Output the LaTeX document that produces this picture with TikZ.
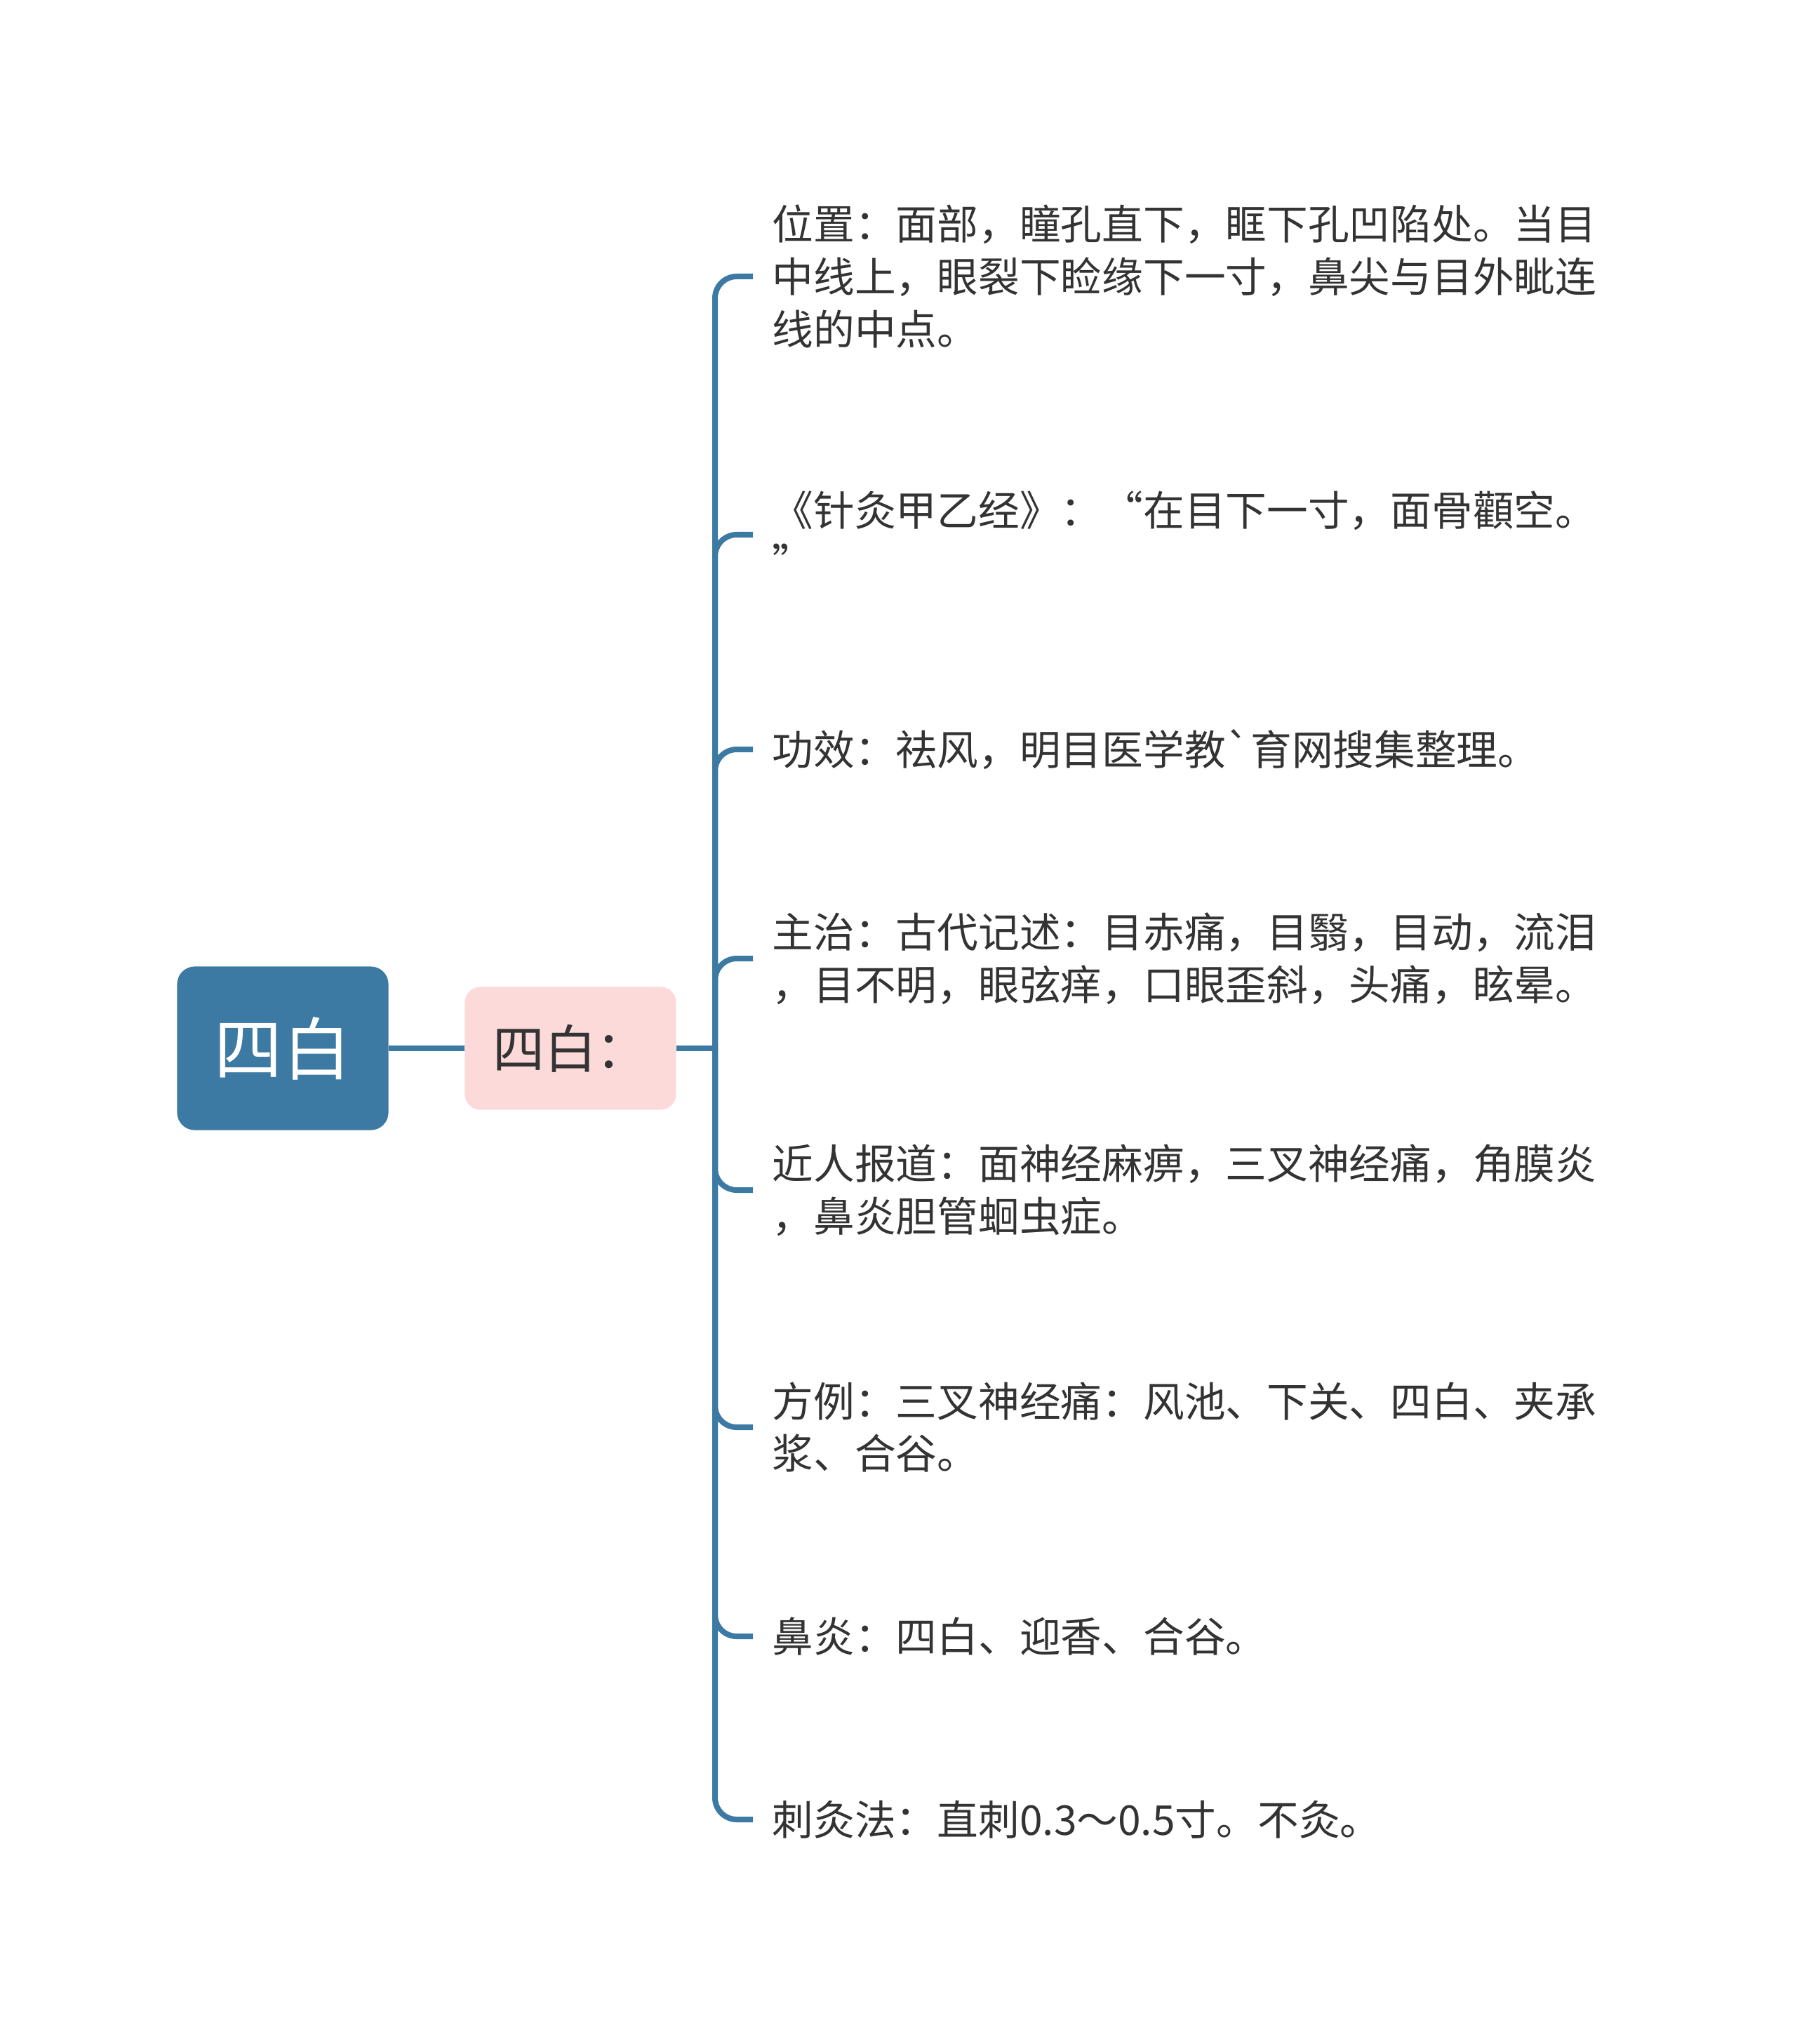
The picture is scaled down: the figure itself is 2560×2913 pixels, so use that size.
\documentclass[tikz,border=0pt]{standalone}
\usepackage{fontspec}
\setmainfont{Noto Sans CJK SC}
\definecolor{sibai}{HTML}{3C7AA3}
\definecolor{pinkbox}{HTML}{FCDADA}
\definecolor{inkgray}{HTML}{333333}

\begin{document}
\begin{tikzpicture}[x=0.01cm, y=-0.01cm,
		link/.style={draw=sibai, line width=0.08cm},
		branch/.style={link, rounded corners=0.31cm, shorten >=0.27cm},
		leaf/.style={anchor=west, inner sep=0pt, align=left, text=inkgray, font=\fontsize{16.7pt}{21.3pt}\selectfont}]
			\useasboundingbox (0,0) rectangle (2560,2913);
			\node[fill=sibai, rounded corners=0.25cm, minimum width=3.01cm, minimum height=2.33cm, text=white, font=\fontsize{27.6pt}{33pt}\selectfont] (root) at (403,1494) {四白};
			\node[fill=pinkbox, rounded corners=0.22cm, minimum width=3.01cm, minimum height=1.75cm, text=inkgray, font=\fontsize{21pt}{25pt}\selectfont] (sub) at (813,1494) {四白：};
			\draw[link] (root.east) -- (sub.west);
			\draw[link] (sub.east) -- (1019,1494) coordinate (bus);
			\node[leaf] (b1) at (1100, 394) {位置：面部，瞳孔直下，眶下孔凹陷处。当目\\中线上，眼裂下睑缘下一寸，鼻尖与目外眦连\\线的中点。};
			\node[leaf] (b2) at (1100, 762) {《针灸甲乙经》：“在目下一寸，面骨顴空。\\”};
			\node[leaf] (b3) at (1100,1068) {功效：祛风，明目医学教\textasciigrave 育网搜集整理。};
			\node[leaf] (b4) at (1100,1366) {主治：古代记述：目赤痛，目翳，目动，流泪\\，目不明，眼弦痒，口眼歪斜，头痛，眩晕。};
			\node[leaf] (b5) at (1100,1696) {近人报道：面神经麻痹，三叉神经痛，角膜炎\\，鼻炎胆管蛔虫症。};
			\node[leaf] (b6) at (1100,2034) {方例：三叉神经痛：风池、下关、四白、夹承\\浆、合谷。};
			\node[leaf] (b7) at (1100,2332) {鼻炎：四白、迎香、合谷。};
			\node[leaf] (b8) at (1100,2593) {刺灸法：直刺0.3～0.5寸。不灸。};
			\draw[branch] (bus) |- (b1.west);
			\draw[branch] (bus) |- (b2.west);
			\draw[branch] (bus) |- (b3.west);
			\draw[branch] (bus) |- (b4.west);
			\draw[branch] (bus) |- (b5.west);
			\draw[branch] (bus) |- (b6.west);
			\draw[branch] (bus) |- (b7.west);
			\draw[branch] (bus) |- (b8.west);
		\end{tikzpicture}
\end{document}
